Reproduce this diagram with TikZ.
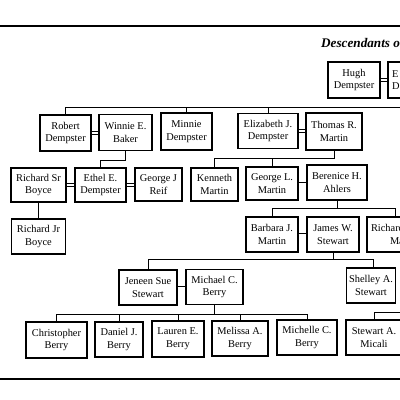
\documentclass[tikz,border=0pt]{standalone}
\usepackage{fontspec}
\setmainfont{Liberation Serif}
\usetikzlibrary{calc}
\tikzset{
  person/.style={draw, line width=1.1pt, rectangle, align=center, inner sep=1pt,
    font=\fontsize{10.4}{12.6}\selectfont},
  link/.style={line width=1pt},
  couple/.style={double, double distance=2pt, line width=0.8pt},
  rule/.style={line width=2.8pt}
}
\begin{document}
\begin{tikzpicture}[x=1pt,y=-1pt]
\useasboundingbox (0,0) rectangle (400,400);
\clip (0,0) rectangle (400,400);
% frame rules
\coordinate (tl) at (0,26);
\coordinate (tr) at (400,26);
\coordinate (bl) at (0,379);
\coordinate (br) at (400,379);
\draw[rule] (tl) -- (tr);
\draw[rule] (bl) -- (br);
% title
\node[anchor=base west, inner sep=0pt, font=\fontsize{13.2}{15}\selectfont\bfseries\itshape] (title) at (321,47) {Descendants of};
% generation 1
\node[person, minimum width=52, minimum height=36] (hugh) at (354,80) {Hugh\\Dempster};
\node[person, minimum width=52, minimum height=36, text width=44, align=left] (hspouse) at (414,80) {E\\D};
% generation 2
\node[person, minimum width=51, minimum height=36] (robert) at (65.5,133) {Robert\\Dempster};
\node[person, minimum width=53, minimum height=36] (winnie) at (125.5,132.5) {Winnie E.\\Baker};
\node[person, minimum width=51, minimum height=37] (minnie) at (186.5,131.5) {Minnie\\Dempster};
\node[person, minimum width=60, minimum height=35] (elizabeth) at (268,131) {Elizabeth J.\\Dempster};
\node[person, minimum width=56, minimum height=37] (thomas) at (334,131.5) {Thomas R.\\Martin};
% generation 3
\node[person, minimum width=55, minimum height=34] (richsr) at (38.5,185) {Richard Sr\\Boyce};
\node[person, minimum width=51, minimum height=34] (ethel) at (100.5,185) {Ethel E.\\Dempster};
\node[person, minimum width=47, minimum height=33] (georgej) at (158.5,184.5) {George J\\Reif};
\node[person, minimum width=47, minimum height=33] (kenneth) at (214.5,184.5) {Kenneth\\Martin};
\node[person, minimum width=52, minimum height=33] (georgel) at (272,183.5) {George L.\\Martin};
\node[person, minimum width=60, minimum height=35] (berenice) at (337,182.5) {Berenice H.\\Ahlers};
% generation 4
\node[person, minimum width=54, minimum height=35] (richjr) at (38.5,236.5) {Richard Jr\\Boyce};
\node[person, minimum width=52, minimum height=35] (barbara) at (272,234.5) {Barbara J.\\Martin};
\node[person, minimum width=52, minimum height=35] (james) at (333,234.5) {James W.\\Stewart};
\node[person, minimum width=56, minimum height=35, text width=48, align=left] (richard) at (395,234.5) {Richard\\\hspace*{19pt}Martin};
% generation 5
\node[person, minimum width=58, minimum height=35] (jeneen) at (148,287.5) {Jeneen Sue\\Stewart};
\node[person, minimum width=57, minimum height=35] (michael) at (214.5,287) {Michael C.\\Berry};
\node[person, minimum width=49, minimum height=35] (shelley) at (371,285.5) {Shelley A.\\Stewart};
% generation 6
\node[person, minimum width=61, minimum height=36] (christopher) at (56.5,340) {Christopher\\Berry};
\node[person, minimum width=48, minimum height=35] (daniel) at (119,339.5) {Daniel J.\\Berry};
\node[person, minimum width=52, minimum height=36] (lauren) at (178,339) {Lauren E.\\Berry};
\node[person, minimum width=56, minimum height=35] (melissa) at (240,338.5) {Melissa A.\\Berry};
\node[person, minimum width=60, minimum height=35] (michelle) at (307,337.5) {Michelle C.\\Berry};
\node[person, minimum width=56, minimum height=35] (micali) at (374,337.5) {Stewart A.\\Micali};
% couples
\draw[couple] (hugh.east) -- (hugh.east -| hspouse.west);
\draw[couple] (robert.east) -- (robert.east -| winnie.west);
\draw[couple] (elizabeth.east) -- (elizabeth.east -| thomas.west);
\draw[couple] (richsr.east) -- (richsr.east -| ethel.west);
\draw[couple] (ethel.east) -- (ethel.east -| georgej.west);
\draw[couple] (georgel.east) -- (georgel.east -| berenice.west);
\draw[couple] (barbara.east) -- (barbara.east -| james.west);
\draw[couple] (jeneen.east) -- (jeneen.east -| michael.west);
% descent lines
\coordinate (bus1) at (402,107);
\draw[link] (robert.north) |- (bus1);
\draw[link] (minnie.north) -- (minnie.north |- bus1);
\draw[link] (elizabeth.north) -- (elizabeth.north |- bus1);
\draw[link] (winnie.south) -- ++(0,9) -| (ethel.north);
\draw[link] (richsr.south) -- (richjr.north);
\draw[link] (thomas.south) -- ++(0,8) coordinate (tb);
\draw[link] (kenneth.north) |- (tb);
\draw[link] (georgel.north) -- (georgel.north |- tb);
\draw[link] (berenice.south) -- ++(0,8) coordinate (bb);
\draw[link] (barbara.north) |- (bb) -| (richard.north);
\draw[link] (james.south) -- ++(0,7) coordinate (jb);
\draw[link] (jeneen.north) |- (jb) -| ([xshift=2pt]shelley.north);
\draw[link] (michael.south) -- ++(0,9) coordinate (mb);
\draw[link] (christopher.north) |- (mb) -| (michelle.north);
\draw[link] (daniel.north) -- (daniel.north |- mb);
\draw[link] (lauren.north) -- (lauren.north |- mb);
\draw[link] (melissa.north) -- (melissa.north |- mb);
\coordinate (sb) at (402,312.5);
\draw[link] (micali.north) |- (sb);
\end{tikzpicture}
\end{document}
